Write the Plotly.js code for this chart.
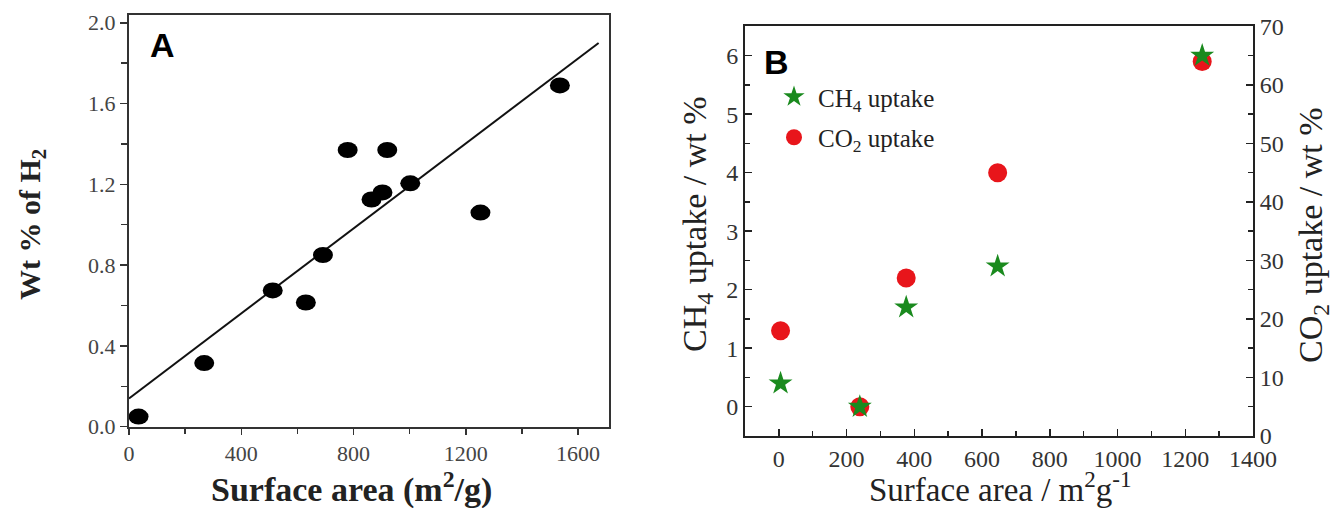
<!DOCTYPE html>
<html>
<head>
<meta charset="utf-8">
<script src="https://cdn.plot.ly/plotly-3.0.1.min.js"></script>
<style>
  html, body { margin: 0; padding: 0; background: #fff; }
  #chart { width: 1335px; height: 508px; }
</style>
</head>
<body>
<div id="chart"></div>
<script>
// Panel A: H2 uptake against surface area, with a linear fit
const h2Surface = [34, 268, 512, 630, 691, 779, 864, 903, 920, 1002, 1252, 1535];
const h2Uptake  = [0.05, 0.315, 0.675, 0.615, 0.85, 1.37, 1.125, 1.16, 1.37, 1.205, 1.06, 1.69];
const fitSurface = [0, 1673];
const fitUptake  = [0.14, 1.90];

// Panel B: CH4 (left axis) and CO2 (right axis) uptake
const gasSurface = [5, 239, 376, 646, 1250];
const ch4Uptake  = [0.4, 0, 1.7, 2.4, 6.0];
const co2Uptake  = [18, 5, 27, 45, 64];

const W = 1335, H = 508;
const px = v => v / W;
const py = v => 1 - v / H;

const serif = 'Liberation Serif, Times New Roman, serif';
const sans = 'Liberation Sans, Arial, sans-serif';

const traces = [
  {
    x: fitSurface, y: fitUptake, xaxis: 'x', yaxis: 'y',
    mode: 'lines', line: {color: '#111', width: 2},
    showlegend: false, hoverinfo: 'skip'
  },
  {
    name: 'CO<sub>2</sub> uptake', legendrank: 2, legendgroup: 'co2',
    x: gasSurface, y: co2Uptake, xaxis: 'x2', yaxis: 'y2',
    mode: 'markers', marker: {symbol: 'circle', size: 19, color: '#e8151b'}
  },
  {
    name: 'CH<sub>4</sub> uptake', legendrank: 1, legendgroup: 'ch4',
    x: gasSurface, y: ch4Uptake, xaxis: 'x2', yaxis: 'y3',
    mode: 'markers', marker: {symbol: 'star', size: 18, color: '#1a8a1e'}
  }
];

// Elliptical dots for panel A, anchored at each data point
const dots = h2Surface.map((s, i) => ({
  type: 'circle', xref: 'x', yref: 'y',
  xsizemode: 'pixel', ysizemode: 'pixel',
  xanchor: s, yanchor: h2Uptake[i],
  x0: -10, x1: 10, y0: -8, y1: 8,
  fillcolor: '#000', line: {width: 0}, layer: 'above'
}));

const tickA = {family: serif, size: 22, color: '#444'};
const tickB = {family: serif, size: 24, color: '#333'};

function label(text, x, y, size, opts) {
  return Object.assign({
    text: text, x: px(x), y: py(y), xref: 'paper', yref: 'paper',
    xanchor: 'center', yanchor: 'middle', showarrow: false,
    font: {family: serif, size: size, color: '#222'}
  }, opts || {});
}

const layout = {
  width: W, height: H,
  margin: {l: 0, r: 0, t: 0, b: 0},
  paper_bgcolor: '#fff', plot_bgcolor: 'rgba(0,0,0,0)',
  showlegend: true,
  legend: {
    x: px(770), y: py(74), xanchor: 'left', yanchor: 'top',
    bgcolor: 'rgba(0,0,0,0)', borderwidth: 0, itemwidth: 38,
    font: {family: serif, size: 25, color: '#222'},
    tracegroupgap: 5
  },
  xaxis: {
    domain: [px(129), px(609)], anchor: 'y',
    range: [0, 1710], dtick: 400, tick0: 0,
    showline: true, mirror: true, linecolor: '#333', linewidth: 2,
    ticks: 'outside', ticklen: 6, tickwidth: 1.5, tickcolor: '#333',
    minor: {dtick: 200, ticks: 'outside', ticklen: 5, tickwidth: 1.5, tickcolor: '#333'},
    showgrid: false, zeroline: false, tickfont: tickA
  },
  yaxis: {
    domain: [py(426.7), py(14.7)], anchor: 'x',
    range: [0, 2.04], dtick: 0.4, tick0: 0, tickformat: '.1f',
    showline: true, mirror: true, linecolor: '#333', linewidth: 2,
    ticks: 'outside', ticklen: 7, tickwidth: 1.5, tickcolor: '#333',
    minor: {dtick: 0.2, ticks: 'outside', ticklen: 6, tickwidth: 1.5, tickcolor: '#333'},
    showgrid: false, zeroline: false, tickfont: tickA
  },
  xaxis2: {
    domain: [px(745), px(1253)], anchor: 'y2',
    range: [-100, 1400], dtick: 200, tick0: 0,
    showline: true, mirror: true, linecolor: '#222', linewidth: 2,
    ticks: 'inside', ticklen: 7, tickwidth: 1.5, tickcolor: '#222',
    minor: {dtick: 100, ticks: 'inside', ticklen: 5, tickwidth: 1.5, tickcolor: '#222'},
    showgrid: false, zeroline: false, tickfont: tickB
  },
  yaxis2: {
    domain: [py(436), py(26.4)], anchor: 'x2', side: 'right',
    range: [0, 70], dtick: 10, tick0: 0,
    showline: true, linecolor: '#222', linewidth: 2,
    ticks: 'inside', ticklen: 7, tickwidth: 1.5, tickcolor: '#222',
    minor: {dtick: 5, ticks: 'inside', ticklen: 5, tickwidth: 1.5, tickcolor: '#222'},
    showgrid: false, zeroline: false, tickfont: tickB
  },
  yaxis3: {
    overlaying: 'y2', anchor: 'x2', side: 'left',
    range: [-0.5, 6.5], dtick: 1, tick0: 0,
    showline: true, linecolor: '#222', linewidth: 2,
    ticks: 'inside', ticklen: 7, tickwidth: 1.5, tickcolor: '#222',
    minor: {dtick: 0.5, ticks: 'inside', ticklen: 5, tickwidth: 1.5, tickcolor: '#222'},
    showgrid: false, zeroline: false, tickfont: tickB
  },
  shapes: dots,
  annotations: [
    label('<b>A</b>', 162, 45, 34, {font: {family: sans, size: 34, color: '#000'}}),
    label('<b>B</b>', 776, 62, 34, {font: {family: sans, size: 34, color: '#000'}}),
    label('<b>Surface area (m<sup>2</sup>/g)</b>', 351, 487, 34),
    label('<b>Wt % of H<sub>2</sub></b>', 32, 225, 30, {textangle: -90}),
    label('Surface area / m<sup>2</sup>g<sup>-1</sup>', 1000, 487, 33),
    label('CH<sub>4</sub> uptake / wt %', 697, 224, 34, {textangle: -90}),
    label('CO<sub>2</sub> uptake / wt %', 1313, 235, 34, {textangle: -90})
  ]
};

Plotly.newPlot('chart', traces, layout, {displayModeBar: false, staticPlot: true});
</script>
</body>
</html>
